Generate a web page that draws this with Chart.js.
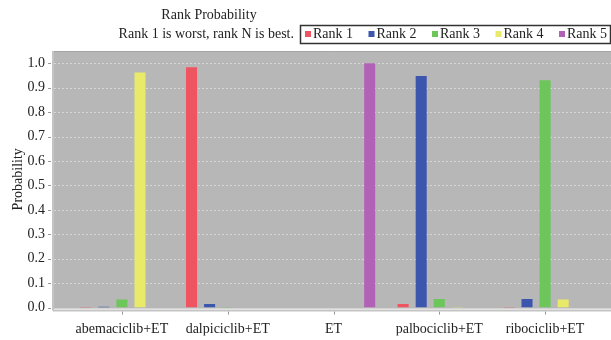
<!DOCTYPE html>
<html>
<head>
<title>Rank Probability</title>
<script src="https://cdn.jsdelivr.net/npm/chart.js@4.4.0/dist/chart.umd.min.js"></script>
<style>
  body { margin: 0; background: #fff; }
  #container { width: 611px; height: 340px; }
</style>
</head>
<body>
<div id="container">
  <canvas id="canvas" width="611" height="340"></canvas></div>
<script>

// data
var treatments = ['abemaciclib+ET', 'dalpiciclib+ET', 'ET', 'palbociclib+ET', 'ribociclib+ET'];
var rankNames = ['Rank 1', 'Rank 2', 'Rank 3', 'Rank 4', 'Rank 5'];
var rank1 = [0.002, 0.983, 0, 0.015, 0.002];
var rank2 = [0.003, 0.015, 0, 0.948, 0.035];
var rank3 = [0.033, 0.002, 0, 0.035, 0.930];
var rank4 = [0.962, 0, 0, 0.002, 0.033];
var rank5 = [0, 0, 1.0, 0, 0];
var yTicks = [0.0, 0.1, 0.2, 0.3, 0.4, 0.5, 0.6, 0.7, 0.8, 0.9, 1.0];

var rankColors = ['#ef5560', '#3c55ad', '#6cc65a', '#e9e96a', '#b262b6'];
var serif = "'Liberation Serif', 'DejaVu Serif', serif";
var textColor = '#222';

var measures = [rank1, rank2, rank3, rank4, rank5];
var datasets = [];
for (var i in measures) {
  datasets.push({
    label: rankNames[i],
    data: measures[i],
    backgroundColor: rankColors[i],
    borderWidth: 0,
    categoryPercentage: 0.855,
    barPercentage: 0.61
  });
}

// gray plot panel, dashed grid, axis lines and tick marks
var panelPlugin = {
  id: 'panel',
  beforeDatasetsDraw: function(chart) {
    var ctx = chart.ctx;
    var area = chart.chartArea;
    var y = chart.scales.y;
    var x = chart.scales.x;
    var left = 54, right = 611;
    ctx.save();
    ctx.fillStyle = '#b7b7b7';
    ctx.fillRect(left, area.top, right - left, area.bottom - area.top + 1);
    ctx.strokeStyle = '#a4a4a4';
    ctx.lineWidth = 1;
    ctx.beginPath();
    ctx.moveTo(left, area.top + 0.5);
    ctx.lineTo(right, area.top + 0.5);
    ctx.stroke();

    ctx.strokeStyle = '#d6d6d6';
    ctx.setLineDash([2, 2]);
    yTicks.forEach(function(v) {
      if (v <= 0) return;
      var py = Math.round(y.getPixelForValue(v)) + 0.5;
      ctx.beginPath();
      ctx.moveTo(left, py);
      ctx.lineTo(right, py);
      ctx.stroke();
    });
    ctx.setLineDash([]);

    // axis lines
    ctx.strokeStyle = '#c4c4c4';
    ctx.lineWidth = 2;
    ctx.beginPath();
    ctx.moveTo(left - 1, area.top);
    ctx.lineTo(left - 1, area.bottom + 3);
    ctx.moveTo(left - 1, area.bottom + 3);
    ctx.lineTo(right, area.bottom + 3);
    ctx.stroke();

    ctx.strokeStyle = '#999';
    ctx.lineWidth = 1;
    ctx.beginPath();
    yTicks.forEach(function(v) {
      var py = Math.round(y.getPixelForValue(v)) + 0.5;
      ctx.moveTo(48, py);
      ctx.lineTo(51, py);
    });
    treatments.forEach(function(t, k) {
      var px = Math.round(x.getPixelForValue(k)) + 0.5;
      ctx.moveTo(px, area.bottom + 4);
      ctx.lineTo(px, area.bottom + 7);
    });
    ctx.stroke();
    ctx.restore();
  }
};

// title, subtitle and boxed legend
var headerPlugin = {
  id: 'header',
  afterDraw: function(chart) {
    var ctx = chart.ctx;
    ctx.save();
    ctx.font = '14px ' + serif;
    ctx.fillStyle = textColor;
    ctx.textBaseline = 'middle';
    ctx.textAlign = 'center';
    ctx.fillText('Rank Probability', 209, 15);
    ctx.textAlign = 'right';
    ctx.fillText('Rank 1 is worst, rank N is best.', 294, 34);

    ctx.strokeStyle = '#333';
    ctx.lineWidth = 1.5;
    ctx.strokeRect(300.5, 25.5, 310, 18);

    ctx.textAlign = 'left';
    chart.data.datasets.forEach(function(ds, k) {
      var bx = 305 + k * 63.5;
      ctx.fillStyle = ds.backgroundColor;
      ctx.fillRect(bx, 31, 6, 6);
      ctx.fillStyle = textColor;
      ctx.fillText(ds.label, bx + 8, 34);
    });
    ctx.restore();
  }
};

var ctx = document.getElementById('canvas').getContext('2d');
window.rankChart = new Chart(ctx, {
  type: 'bar',
  data: {
    labels: treatments,
    datasets: datasets
  },
  plugins: [panelPlugin, headerPlugin],
  options: {
    responsive: false,
    animation: false,
    events: [],
    layout: { padding: { top: 51, right: 13, left: 0, bottom: 0 } },
    plugins: {
      legend: { display: false },
      title: { display: false },
      tooltip: { enabled: false }
    },
    scales: {
      x: {
        grid: { display: false, drawTicks: false },
        border: { display: false },
        ticks: {
          color: textColor,
          padding: 13,
          maxRotation: 0,
          autoSkip: false,
          font: { family: serif, size: 14 }
        },
        afterFit: function(scale) { scale.height = 28; }
      },
      y: {
        min: 0,
        max: 1.05,
        grid: { display: false, drawTicks: false },
        border: { display: false },
        ticks: {
          stepSize: 0.1,
          color: textColor,
          padding: 24,
          font: { family: serif, size: 14 },
          callback: function(v) { return Number(v).toFixed(1); }
        },
        afterBuildTicks: function(scale) {
          scale.ticks = yTicks.map(function(v) { return { value: v }; });
        },
        title: {
          display: true,
          text: 'Probability',
          color: textColor,
          font: { family: serif, size: 14 },
          padding: { top: 10, bottom: 0 }
        },
        afterFit: function(scale) { scale.width = 69; }
      }
    }
  }
});

</script>
</body>
</html>
